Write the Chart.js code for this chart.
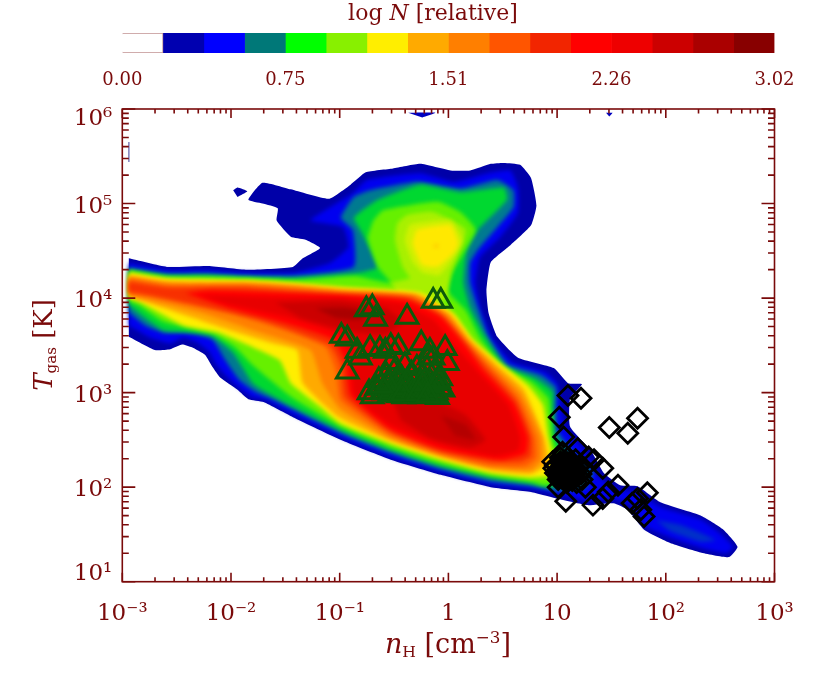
<!DOCTYPE html>
<html lang="en">

<head>
    <meta charset="UTF-8">
    <title>Phase diagram</title>
    <style>
        body { margin: 0; background: #fff; }
        #wrap { position: relative; width: 814px; height: 685px; overflow: hidden; color: #7a0a0a; font-family: "DejaVu Serif", serif; }
        canvas { position: absolute; left: 0; top: 0; }
        .lab { position: absolute; white-space: nowrap; }
        .lab sub { font-size: 58%; font-style: normal; vertical-align: -4px; line-height: 0; }
        .lab sup { font-size: 62%; vertical-align: 10px; line-height: 0; }
    </style>
</head>

<body>
    <div id="wrap">
        <canvas id="barChart" width="814" height="100"></canvas>
        <canvas id="myChart" width="814" height="685" style="top:0"></canvas>
        <div class="lab" style="left:0;width:866px;text-align:center;top:0;font-size:22px">log <i>N</i> [relative]</div>
        <div class="lab" style="left:0;width:896px;text-align:center;top:628px;font-size:27px"><i>n</i><sub>H</sub> [cm<sup>&minus;3</sup>]</div>
        <div class="lab" style="left:-57px;width:200px;text-align:center;top:330px;font-size:26px;transform:rotate(-90deg)"><i>T</i><sub>gas</sub> [K]</div>
    </div>

    <script src="https://cdn.jsdelivr.net/npm/chart.js"></script>
    <script type="text/javascript">
        // colour bar
        const cbTicks = [0, 0.755, 1.51, 2.265, 3.02];
        const cbLabels = ['0.00', '0.75', '1.51', '2.26', '3.02'];
        const cbBand = 0.18875;
        const cbColors = ['#ffffff', '#0000b0', '#0000ff', '#007878', '#00ff00', '#88f000', '#ffee00', '#ffaa00',
            '#ff7f00', '#ff5500', '#f22500', '#ff0000', '#ee0000', '#cc0000', '#aa0000', '#880000'];

        // axes
        const xDecades = [1e-3, 1e-2, 1e-1, 1, 10, 100, 1000];
        const xTickLabels = ['10⁻³', '10⁻²', '10⁻¹', '1', '10', '10²', '10³'];
        const yDecades = [10, 100, 1000, 1e4, 1e5, 1e6];
        const yTickLabels = ['10¹', '10²', '10³', '10⁴', '10⁵', '10⁶'];
        // the two end labels sit inside the frame in the original
        const yLabelAnchors = [12.9, 100, 1000, 1e4, 1e5, 851000];

        // contour outlines, [log nH, log T]
        const lvl1 = [[-2.94,4.42],[-2.59,4.33],[-2.21,4.34],[-1.85,4.30],[-1.43,4.33],[-1.34,4.42],[-1.18,4.53],[-1.32,4.62],[-1.45,4.65],[-1.58,4.82],[-1.57,4.95],[-1.71,5.00],[-1.84,5.04],[-1.71,5.22],[-1.45,5.15],[-1.10,5.05],[-0.90,5.20],[-0.76,5.33],[-0.51,5.37],[-0.26,5.42],[0.02,5.35],[0.20,5.35],[0.39,5.42],[0.51,5.43],[0.66,5.41],[0.76,5.27],[0.81,4.98],[0.76,4.77],[0.57,4.56],[0.39,4.38],[0.35,4.08],[0.37,3.84],[0.45,3.59],[0.64,3.37],[0.97,3.26],[1.10,3.10],[1.23,3.09],[1.12,2.94],[1.12,2.64],[1.31,2.39],[1.43,2.15],[1.58,2.02],[1.74,2.01],[1.95,1.84],[2.32,1.70],[2.53,1.55],[2.66,1.37],[2.58,1.26],[2.32,1.31],[2.04,1.41],[1.80,1.55],[1.65,1.76],[1.52,1.83],[1.28,1.81],[1.00,1.88],[0.76,1.95],[0.39,2.00],[-0.07,2.13],[-0.53,2.29],[-0.97,2.49],[-1.43,2.74],[-1.70,2.90],[-1.84,2.93],[-1.94,3.03],[-2.10,3.16],[-2.17,3.27],[-2.24,3.40],[-2.36,3.48],[-2.45,3.51],[-2.56,3.46],[-2.70,3.45],[-2.94,3.59]];
        const islandA = [[-1.98,5.14],[-1.94,5.17],[-1.85,5.13],[-1.94,5.07]];
        const islandB = [[-0.37,5.96],[-0.12,5.96],[-0.24,5.91]];
        const islandC = [[1.45,5.96],[1.51,5.96],[1.48,5.92]];
        const lvl2 = [[-2.94,4.37],[-2.59,4.30],[-2.21,4.30],[-1.85,4.27],[-1.41,4.27],[-1.09,4.37],[-0.92,4.54],[-0.97,4.75],[-1.27,4.82],[-1.09,4.96],[-0.88,5.11],[-0.75,5.25],[-0.26,5.32],[0.05,5.23],[0.36,5.32],[0.57,5.35],[0.64,5.17],[0.64,4.90],[0.48,4.65],[0.29,4.43],[0.25,4.16],[0.30,3.87],[0.40,3.58],[0.59,3.32],[0.89,3.22],[1.00,3.10],[1.03,2.92],[1.07,2.64],[1.26,2.37],[1.38,2.11],[1.57,1.97],[1.74,1.96],[1.95,1.79],[2.32,1.66],[2.50,1.51],[2.62,1.37],[2.56,1.30],[2.32,1.36],[2.06,1.46],[1.81,1.59],[1.68,1.81],[1.49,1.88],[1.26,1.86],[1.00,1.93],[0.76,1.98],[0.39,2.03],[-0.07,2.16],[-0.53,2.32],[-0.97,2.52],[-1.43,2.77],[-1.69,2.93],[-1.80,2.95],[-1.90,3.03],[-2.03,3.16],[-2.13,3.29],[-2.20,3.43],[-2.31,3.53],[-2.44,3.58],[-2.56,3.52],[-2.74,3.58],[-2.94,3.71]];
        const tailCore = [[1.91,1.65],[2.14,1.60],[2.46,1.44],[2.32,1.42],[2.04,1.53]];
        const lvl3 = [[-2.94,4.32],[-2.59,4.26],[-2.21,4.26],[-1.85,4.24],[-1.41,4.24],[-0.87,4.33],[-0.88,4.72],[-0.99,4.85],[-0.87,5.07],[-0.72,5.14],[-0.29,5.23],[0.11,5.16],[0.45,5.25],[0.60,5.14],[0.60,4.96],[0.45,4.75],[0.27,4.51],[0.20,4.37],[0.20,4.16],[0.27,3.90],[0.37,3.59],[0.55,3.30],[0.85,3.19],[0.99,3.06],[0.99,2.87],[1.00,2.60],[1.17,2.34],[1.33,2.16],[1.26,1.99],[1.00,1.96],[0.76,2.01],[0.39,2.06],[-0.07,2.19],[-0.53,2.36],[-0.97,2.56],[-1.36,2.78],[-1.64,2.94],[-1.78,3.01],[-1.92,3.13],[-2.05,3.34],[-2.17,3.56],[-2.42,3.64],[-2.61,3.63],[-2.79,3.71],[-2.94,3.85]];
        const lvl4 = [[-2.94,4.30],[-2.59,4.24],[-2.21,4.24],[-1.85,4.22],[-1.41,4.21],[-0.87,4.26],[-0.65,4.33],[-0.81,4.72],[-0.87,4.85],[-0.65,5.04],[-0.26,5.20],[0.11,5.12],[0.51,5.17],[0.54,5.04],[0.27,4.72],[0.17,4.51],[0.14,4.16],[0.20,3.90],[0.34,3.59],[0.52,3.28],[0.80,3.15],[0.96,3.01],[0.96,2.82],[0.98,2.55],[1.08,2.31],[1.12,2.10],[0.94,2.00],[0.76,2.04],[0.39,2.10],[-0.07,2.22],[-0.53,2.39],[-0.97,2.59],[-1.43,2.85],[-1.67,3.00],[-1.80,3.10],[-1.98,3.42],[-2.19,3.61],[-2.62,3.66],[-2.79,3.79],[-2.94,3.93]];
        const lvl5 = [[-2.94,4.29],[-2.59,4.22],[-2.21,4.22],[-1.85,4.21],[-1.41,4.19],[-0.86,4.23],[-0.53,4.16],[-0.65,4.33],[-0.74,4.63],[-0.69,4.82],[-0.60,4.93],[-0.10,5.02],[0.11,4.91],[0.25,4.72],[0.05,4.30],[-0.01,4.08],[0.16,3.87],[0.29,3.58],[0.50,3.27],[0.76,3.12],[0.92,2.94],[0.94,2.76],[0.96,2.50],[1.03,2.29],[1.06,2.10],[0.89,2.02],[0.76,2.06],[0.39,2.12],[-0.07,2.25],[-0.53,2.42],[-0.97,2.63],[-1.45,2.96],[-1.80,3.29],[-1.96,3.48],[-2.16,3.62],[-2.62,3.75],[-2.84,3.92],[-2.94,3.97]];
        const lobeB = [[-0.35,4.21],[-0.42,4.33],[-0.49,4.61],[-0.47,4.79],[-0.38,4.88],[-0.14,4.91],[0.16,4.72],[0.02,4.26],[-0.03,3.98],[-0.44,4.03],[-0.53,4.16]];
        const lobeC = [[-0.33,4.38],[-0.40,4.61],[-0.35,4.78],[0.02,4.82],[0.13,4.61],[0.02,4.38],[-0.09,4.24],[-0.24,4.27]];
        const lobeD = [[-0.33,4.58],[-0.29,4.72],[0.02,4.77],[0.09,4.58],[0.05,4.48],[-0.10,4.33],[-0.24,4.35],[-0.30,4.48]];
        const lobePeak = [[-0.14,4.54],[-0.09,4.54],[-0.11,4.57]];
        const lvl6 = [[-2.94,4.27],[-2.59,4.21],[-2.21,4.20],[-1.85,4.19],[-1.41,4.16],[-0.99,4.12],[-0.26,4.06],[0.05,3.84],[0.23,3.56],[0.48,3.31],[0.73,3.08],[0.87,2.87],[0.92,2.53],[0.97,2.29],[0.99,2.13],[0.76,2.10],[0.39,2.15],[-0.07,2.29],[-0.53,2.46],[-0.99,2.67],[-1.18,2.85],[-1.45,3.10],[-1.55,3.34],[-1.80,3.48],[-2.13,3.64],[-2.44,3.71],[-2.84,3.96],[-2.94,4.00]];
        const lvl7 = [[-2.94,4.24],[-2.59,4.18],[-2.21,4.17],[-1.85,4.17],[-1.41,4.14],[-0.99,4.10],[-0.29,4.04],[0.02,3.83],[0.21,3.55],[0.45,3.29],[0.69,3.04],[0.88,2.53],[0.92,2.25],[0.76,2.14],[0.39,2.18],[-0.07,2.32],[-0.53,2.49],[-1.01,2.74],[-1.34,3.10],[-1.39,3.45],[-1.61,3.52],[-2.01,3.66],[-2.40,3.81],[-2.94,4.02]];
        const lvl8 = [[-2.94,4.22],[-2.59,4.16],[-2.21,4.15],[-1.85,4.15],[-1.41,4.12],[-0.99,4.07],[-0.31,4.03],[-0.01,3.82],[0.19,3.53],[0.41,3.28],[0.66,3.00],[0.85,2.53],[0.86,2.29],[0.76,2.18],[0.39,2.21],[-0.07,2.34],[-0.53,2.52],[-0.99,2.82],[-1.16,3.10],[-1.27,3.45],[-1.80,3.66],[-2.26,3.84],[-2.94,4.03]];
        const lvl9 = [[-2.94,4.20],[-2.59,4.13],[-2.21,4.13],[-1.85,4.13],[-1.41,4.10],[-0.99,4.06],[-0.33,4.01],[-0.03,3.81],[0.17,3.53],[0.39,3.26],[0.64,2.95],[0.80,2.53],[0.81,2.31],[0.71,2.22],[0.39,2.23],[-0.07,2.36],[-0.53,2.55],[-0.99,2.92],[-1.04,3.24],[-1.13,3.48],[-1.43,3.63],[-2.01,3.84],[-2.74,4.02],[-2.94,4.05]];
        const lvl10 = [[-2.94,4.17],[-2.59,4.11],[-2.21,4.11],[-1.85,4.11],[-1.41,4.07],[-0.99,4.04],[-0.36,4.00],[-0.06,3.81],[0.16,3.52],[0.36,3.25],[0.62,2.92],[0.76,2.53],[0.76,2.33],[0.66,2.27],[0.39,2.27],[-0.07,2.38],[-0.53,2.58],[-0.95,2.95],[-0.99,3.29],[-1.09,3.50],[-1.73,3.77],[-2.40,3.95],[-2.74,4.03],[-2.94,4.07]];
        const lvl11 = [[-2.42,4.05],[-2.21,4.08],[-1.85,4.07],[-1.41,4.05],[-0.99,4.03],[-0.38,3.98],[-0.07,3.80],[0.14,3.52],[0.32,3.24],[0.60,2.89],[0.73,2.53],[0.71,2.36],[0.48,2.29],[-0.07,2.40],[-0.53,2.61],[-0.90,2.97],[-0.95,3.34],[-1.06,3.56],[-1.43,3.71],[-2.01,3.89]];
        const lvl12 = [[-2.28,4.03],[-1.64,4.01],[-0.99,4.00],[-0.44,3.94],[-0.14,3.77],[0.06,3.50],[0.28,3.21],[0.55,2.87],[0.66,2.53],[0.64,2.39],[0.43,2.33],[-0.07,2.45],[-0.53,2.66],[-0.86,2.97],[-0.90,3.34],[-0.99,3.61],[-1.45,3.79],[-2.01,3.93]];
        const ridge13 = [[-1.59,3.95],[-0.99,3.97],[-0.58,3.89],[-0.42,3.75],[-0.58,3.61],[-0.95,3.66],[-1.36,3.79]];
        const core13 = [[-0.53,2.97],[-0.17,2.94],[0.16,2.76],[0.34,2.50],[0.20,2.42],[-0.17,2.52],[-0.44,2.71]];
        const ridge14 = [[-1.22,3.89],[-0.95,3.90],[-0.75,3.85],[-0.81,3.77],[-1.04,3.79]];
        const core14 = [[-0.07,2.76],[0.16,2.66],[0.25,2.50],[0.06,2.54]];
        const edgeSliver = [[-2.94,5.65],[-2.94,5.44]];

        // triangles, log nH and log T
        const triLogN = [-0.14,-0.07,-0.755,-0.70,-0.67,-0.38,-0.985,-0.93,-0.84,-0.72,-0.81,-0.93,-0.53,-0.63,-0.46,-0.58,-0.25,-0.03,-0.01,-0.17,-0.14,-0.07,-0.73,-0.66,-0.61,-0.55,-0.51,-0.46,-0.41,-0.36,-0.31,-0.27,-0.22,-0.17,-0.13,-0.08,-0.64,-0.57,-0.50,-0.43,-0.34,-0.29,-0.20,-0.13,-0.05,-0.53,-0.41,-0.70,-0.26,-0.10,-0.30,-0.18,-0.52,-0.40,
            -0.59,-0.54,-0.49,-0.44,-0.39,-0.33,-0.28,-0.24,-0.19,-0.15,-0.11,-0.48,-0.38,-0.32,-0.25,-0.21,-0.12,-0.56,-0.09,-0.62,-0.42,-0.28,-0.19];
        const triLogT = [3.97,3.97,3.88,3.90,3.78,3.80,3.60,3.57,3.44,3.47,3.37,3.22,3.49,3.46,3.48,3.44,3.52,3.47,3.31,3.44,3.37,3.15,3.00,3.05,3.01,3.08,3.03,2.97,3.10,3.02,2.97,3.07,3.01,3.12,2.98,3.05,3.13,3.18,3.22,3.15,3.20,3.26,3.26,3.22,3.03,3.01,2.96,2.96,2.96,2.95,3.13,3.37,3.32,3.29,
            3.00,2.98,3.06,3.00,3.05,3.00,3.04,2.98,3.03,3.07,3.00,3.12,3.12,3.09,3.11,3.13,3.10,3.10,3.12,3.07,2.99,2.99,2.97];

        // diamonds, log nH and log T
        const diaLogN = [1.10,1.22,1.02,1.06,1.48,1.65,1.74,1.42,1.19,1.29,1.34,1.56,1.47,1.42,1.33,1.08,1.01,1.83,1.74,1.69,1.77,1.80,1.26,0.985,1.01,1.03,1.05,1.08,1.10,1.12,1.14,0.985,1.03,1.08,1.12,1.17,1.20,1.03,1.10,1.17,0.97,1.06,1.14,1.22,1.09,1.01,1.18,1.23,1.25,0.96,1.05,
            1.02,1.04,1.07,1.09,1.11,1.13,1.15,1.02,1.05,1.07,1.10,1.12,1.15,1.03,1.06,1.08,1.11,1.13,1.16,1.04,1.07,1.09,1.12,1.14,1.02,1.05,1.08,1.11,1.14,1.16];
        const diaLogT = [2.97,2.94,2.74,2.53,2.63,2.57,2.73,2.20,2.41,2.32,2.29,2.02,1.95,1.88,1.81,1.85,2.00,1.94,1.88,1.83,1.76,1.69,2.00,2.23,2.18,2.27,2.20,2.23,2.18,2.27,2.20,2.15,2.13,2.10,2.13,2.16,2.22,2.31,2.31,2.29,2.20,2.16,2.10,2.14,2.05,2.08,2.05,2.08,2.20,2.27,2.37,
            2.12,2.15,2.11,2.14,2.12,2.15,2.12,2.18,2.17,2.19,2.16,2.18,2.17,2.21,2.22,2.20,2.22,2.20,2.21,2.25,2.24,2.26,2.24,2.25,2.10,2.09,2.07,2.09,2.07,2.14];

        const inkColor = '#7a0a0a';
        const labelFont = { family: "'DejaVu Serif', serif", size: 23 };

        const contourLayers = [
            [lvl1, '#0000a8'], [islandA, '#0000a8'], [islandB, '#0000c0'], [islandC, '#0000c0'],
            [lvl2, '#0000f0'], [tailCore, '#0030c8'], [lvl3, '#007a90'], [lvl4, '#00d830'], [lvl5, '#66f000'],
            [lobeB, '#a8f000'], [lobeC, '#d0f000'], [lobeD, '#ffe800'], [lobePeak, '#ffb000'],
            [lvl6, '#ffee00'], [lvl7, '#ffaa00'], [lvl8, '#ff8000'], [lvl9, '#ff5a00'], [lvl10, '#f83000'],
            [lvl11, '#ff0000'], [lvl12, '#e80000'], [ridge13, '#cc0000'], [core13, '#cc0000'],
            [ridge14, '#aa0000'], [core14, '#b40000']
        ];

        function toPoints(pairs) {
            return pairs.map(p => ({ x: Math.pow(10, p[0]), y: Math.pow(10, p[1]) }));
        }
        function zipPoints(xs, ys) {
            return xs.map((x, i) => ({ x: Math.pow(10, x), y: Math.pow(10, ys[i]) }));
        }

        let datasets = contourLayers.map(function (layer) {
            return {
                data: toPoints(layer[0]), showLine: true, fill: 'shape', backgroundColor: layer[1],
                borderWidth: 0, pointRadius: 0, tension: 0.15
            };
        });
        const blurCount = datasets.length;
        datasets.push({ data: toPoints(edgeSliver), showLine: true, borderColor: '#8a8ac0', borderWidth: 1, pointRadius: 0 });
        datasets.push({
            data: zipPoints(diaLogN, diaLogT), pointStyle: 'rectRot', pointRadius: 10, borderColor: '#000000',
            backgroundColor: 'rgba(0,0,0,0)', pointBorderWidth: 2.8
        });
        datasets.push({
            data: zipPoints(triLogN, triLogT), pointStyle: 'triangle', pointRadius: 12.5, borderColor: '#0b5a0b',
            backgroundColor: 'rgba(0,0,0,0)', pointBorderWidth: 3
        });
        // later entries go on top
        datasets.forEach((d, i) => { d.order = datasets.length - i; });

        // the filler runs ahead of this plugin, so the filter set here is for the next layer
        const softContours = {
            id: 'softContours',
            beforeDatasetsDraw(chart) { chart.ctx.filter = 'blur(0.6px)'; },
            afterDatasetDraw(chart, args) {
                if (args.index === 3) chart.ctx.filter = 'blur(2.2px)';
                if (args.index === blurCount - 1) chart.ctx.filter = 'none';
            },
            afterDatasetsDraw(chart) { chart.ctx.filter = 'none'; }
        };

        // IDL style frame with inward ticks, drawn off the scales
        const idlFrame = {
            id: 'idlFrame',
            afterDraw(chart) {
                const c = chart.ctx, a = chart.chartArea, sx = chart.scales.x, sy = chart.scales.y;
                c.save();
                c.strokeStyle = inkColor;
                c.lineWidth = 1.6;
                c.strokeRect(a.left, a.top, a.right - a.left, a.bottom - a.top);
                c.beginPath();
                xDecades.forEach(function (d) {
                    for (let m = 1; m < 10; m++) {
                        if (d * m > 1000) break;
                        const px = sx.getPixelForValue(d * m), len = m === 1 ? 9 : 4.5;
                        c.moveTo(px, a.bottom); c.lineTo(px, a.bottom - len);
                        c.moveTo(px, a.top); c.lineTo(px, a.top + len);
                    }
                });
                yDecades.forEach(function (d) {
                    for (let m = 1; m < 10; m++) {
                        if (d * m > 1e6) break;
                        const py = sy.getPixelForValue(d * m), len = m === 1 ? 13 : 6.5;
                        c.moveTo(a.left, py); c.lineTo(a.left + len, py);
                        c.moveTo(a.right, py); c.lineTo(a.right - len, py);
                    }
                });
                c.stroke();
                c.restore();
            }
        };

        new Chart(document.getElementById('myChart'), {
            type: 'scatter',
            data: { datasets: datasets },
            plugins: [softContours, idlFrame],
            options: {
                responsive: false,
                animation: false,
                devicePixelRatio: 1,
                layout: { padding: { left: 0, right: 39.5, top: 109, bottom: 0 } },
                plugins: { legend: { display: false }, tooltip: { enabled: false } },
                scales: {
                    x: {
                        type: 'logarithmic', min: 1e-3, max: 1e3,
                        grid: { display: false }, border: { display: false },
                        afterBuildTicks(s) { s.ticks = xDecades.map(v => ({ value: v, major: true })); },
                        afterFit(s) { s.height = 103.3; },
                        ticks: {
                            color: inkColor, font: labelFont, padding: 11, autoSkip: false, maxRotation: 0,
                            callback: (v, i) => xTickLabels[i]
                        }
                    },
                    y: {
                        type: 'logarithmic', min: 10, max: 1e6,
                        grid: { display: false }, border: { display: false },
                        afterBuildTicks(s) { s.ticks = yLabelAnchors.map(v => ({ value: v, major: true })); },
                        afterFit(s) { s.width = 122.3; },
                        ticks: {
                            color: inkColor, font: labelFont, padding: 2, labelOffset: 3, autoSkip: false,
                            callback: (v, i) => yTickLabels[i]
                        }
                    }
                }
            }
        });

        // colour bar as one stacked bar
        new Chart(document.getElementById('barChart'), {
            type: 'bar',
            data: {
                labels: ['log N'],
                datasets: cbColors.map(function (col, i) {
                    return {
                        data: [cbBand], backgroundColor: col, stack: 'cb',
                        borderColor: i === 0 ? '#c09090' : col, borderWidth: i === 0 ? 1 : 0,
                        categoryPercentage: 1, barPercentage: 1
                    };
                })
            },
            options: {
                indexAxis: 'y',
                responsive: false,
                animation: false,
                devicePixelRatio: 1,
                layout: { padding: { left: 122.3, right: 39.5, top: 33, bottom: 0 } },
                plugins: { legend: { display: false }, tooltip: { enabled: false } },
                scales: {
                    x: {
                        min: 0, max: 3.02, stacked: true,
                        grid: { display: false }, border: { display: false },
                        afterBuildTicks(s) { s.ticks = cbTicks.map(v => ({ value: v })); },
                        afterFit(s) { s.height = 47; },
                        ticks: {
                            color: inkColor, padding: 9, autoSkip: false, maxRotation: 0,
                            font: { family: "'DejaVu Serif', serif", size: 18 },
                            callback: (v, i) => cbLabels[i]
                        }
                    },
                    y: { display: false, stacked: true }
                }
            }
        });
    </script>
</body>

</html>
